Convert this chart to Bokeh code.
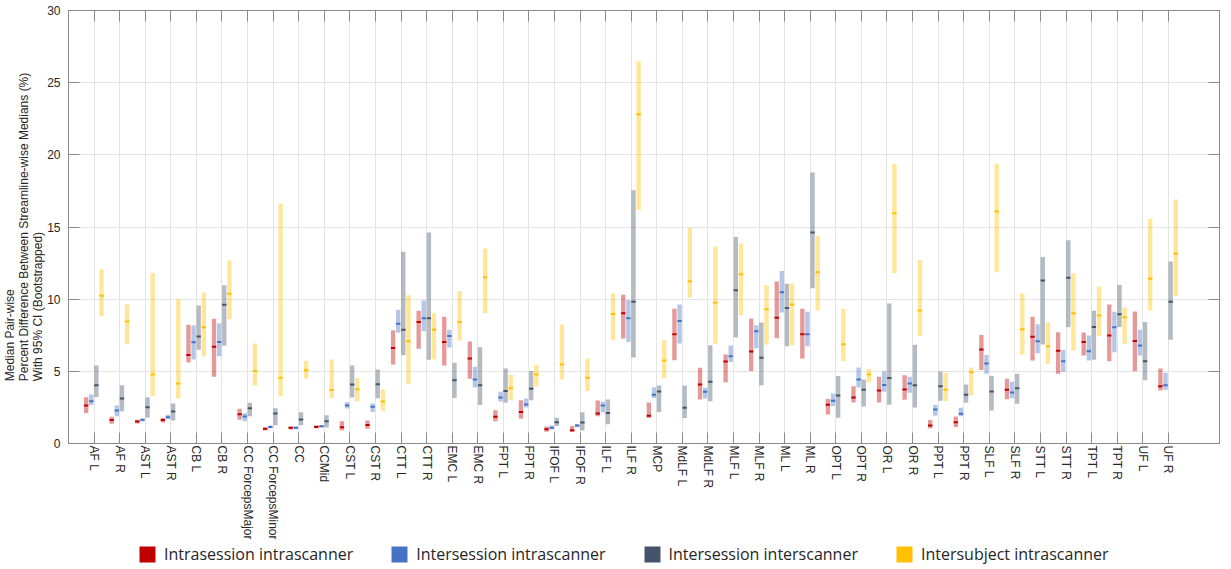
import numpy as np
from bokeh.plotting import figure
from bokeh.layouts import column
from bokeh.models import (ColumnDataSource, Range1d, FixedTicker, SingleIntervalTicker,
                          LinearAxis, Legend, LegendItem, Title)
from bokeh.embed import file_html
from bokeh.resources import INLINE

categories = ["AF L", "AF R", "AST L", "AST R", "CB L", "CB R", "CC ForcepsMajor",
              "CC ForcepsMinor", "CC", "CCMid", "CST L", "CST R", "CTT L", "CTT R",
              "EMC L", "EMC R", "FPT L", "FPT R", "IFOF L", "IFOF R", "ILF L", "ILF R",
              "MCP", "MdLF L", "MdLF R", "MLF L", "MLF R", "ML L", "ML R", "OPT L",
              "OPT R", "OR L", "OR R", "PPT L", "PPT R", "SLF L", "SLF R", "STT L",
              "STT R", "TPT L", "TPT R", "UF L", "UF R"]

# Intrasession intrascanner
intra_lo = [2.12, 1.36, 1.39, 1.45, 5.61, 4.62, 1.64, 0.90, 0.97, 1.06, 0.92, 1.02, 5.47, 6.56,
            5.40, 4.48, 1.55, 1.71, 0.81, 0.79, 1.89, 7.27, 1.76, 5.77, 3.05, 4.25, 5.03, 7.30,
            5.89, 2.01, 2.84, 2.84, 3.03, 1.06, 1.15, 5.10, 3.07, 5.75, 4.83, 6.10, 5.70, 5.01, 3.67]
intra_med = [2.63, 1.62, 1.52, 1.62, 6.14, 6.70, 2.03, 1.02, 1.09, 1.15, 1.13, 1.29, 6.61, 8.41,
             7.04, 5.89, 1.85, 2.19, 0.99, 0.92, 2.08, 9.03, 1.92, 7.57, 4.09, 5.68, 6.37, 8.71,
             7.57, 2.68, 3.19, 3.67, 3.74, 1.25, 1.48, 6.51, 3.72, 7.39, 6.42, 7.04, 7.48, 7.11, 3.97]
intra_hi = [3.21, 1.85, 1.64, 1.76, 8.22, 8.64, 2.40, 1.11, 1.18, 1.27, 1.55, 1.59, 7.85, 9.19,
            8.78, 7.07, 2.31, 3.00, 1.18, 1.22, 2.98, 10.30, 2.84, 9.33, 5.24, 6.17, 8.66, 11.22,
            9.33, 3.09, 3.97, 4.62, 4.73, 1.62, 1.87, 7.51, 4.48, 8.78, 7.71, 7.69, 9.63, 9.15, 5.20]

# Intersession intrascanner
inter_lo = [2.66, 1.89, 1.52, 1.69, 5.82, 6.05, 1.55, 1.06, 0.99, 1.11, 2.42, 2.19, 7.67, 7.78,
            6.65, 3.88, 2.91, 2.49, 0.97, 1.13, 2.17, 7.04, 3.16, 6.93, 3.12, 5.64, 6.60, 9.08,
            6.74, 2.59, 3.88, 3.58, 3.51, 1.92, 1.89, 4.83, 3.14, 6.26, 4.97, 5.75, 6.33, 6.10, 3.72]
inter_med = [2.93, 2.29, 1.64, 1.82, 7.02, 7.04, 1.87, 1.15, 1.09, 1.20, 2.63, 2.54, 8.29, 8.68,
             7.44, 4.43, 3.19, 2.70, 1.09, 1.25, 2.63, 8.68, 3.37, 8.48, 3.58, 6.05, 7.78, 10.48,
             7.57, 2.96, 4.43, 4.06, 4.16, 2.36, 2.06, 5.54, 3.53, 7.09, 5.70, 6.40, 8.06, 6.79, 4.04]
inter_hi = [3.39, 2.63, 1.71, 1.99, 8.18, 8.34, 2.12, 1.25, 1.18, 1.29, 2.86, 2.77, 9.26, 9.91,
            7.88, 5.31, 3.58, 3.12, 1.25, 1.34, 2.89, 9.95, 3.90, 9.63, 3.86, 6.79, 8.20, 11.96,
            9.12, 3.46, 5.27, 5.01, 4.62, 2.68, 2.47, 6.14, 4.27, 8.27, 6.47, 7.48, 9.12, 7.88, 4.90]

# Intersession interscanner
xscan_lo = [3.23, 2.24, 1.78, 1.59, 6.49, 6.77, 1.89, 1.27, 1.27, 1.11, 3.19, 3.14, 6.12, 5.80,
            3.16, 2.66, 2.82, 3.00, 1.22, 0.90, 1.34, 5.96, 2.19, 1.76, 2.93, 7.34, 4.04, 6.74,
            10.76, 1.78, 2.56, 2.68, 2.49, 2.96, 2.82, 2.29, 2.75, 6.86, 8.06, 5.80, 8.08, 4.39, 7.18]
xscan_med = [4.04, 3.12, 2.52, 2.22, 7.41, 9.61, 2.45, 2.08, 1.66, 1.55, 4.09, 4.11, 7.88, 8.68,
             4.39, 4.04, 3.63, 3.79, 1.48, 1.45, 2.12, 9.82, 3.60, 2.47, 4.27, 10.62, 5.94, 9.38,
             14.62, 3.33, 3.72, 4.53, 4.04, 3.97, 3.37, 3.60, 3.83, 11.29, 11.48, 8.08, 8.96, 5.70, 9.82]
xscan_hi = [5.40, 4.04, 3.21, 2.77, 9.56, 10.97, 2.82, 2.45, 2.17, 1.96, 5.40, 5.13, 13.28, 14.62,
            5.59, 6.67, 5.20, 5.03, 1.78, 2.17, 3.05, 17.55, 4.02, 4.02, 6.81, 14.30, 8.38, 11.06,
            18.78, 4.67, 4.43, 9.70, 6.84, 4.99, 4.09, 4.67, 4.83, 12.93, 14.09, 9.19, 10.99, 8.41, 12.61]

# Intersubject intrascanner
subj_lo = [8.82, 6.88, 3.28, 3.12, 6.03, 8.61, 4.02, 3.28, 4.48, 3.16, 2.91, 2.26, 4.11, 5.82,
           7.14, 9.05, 3.00, 3.95, 4.43, 3.63, 7.16, 16.17, 4.53, 10.12, 6.91, 8.89, 6.86, 6.81,
           9.21, 5.70, 4.25, 11.80, 7.44, 2.93, 3.33, 11.87, 6.17, 5.50, 6.44, 7.44, 6.91, 9.24, 10.21]
subj_med = [10.23, 8.45, 4.78, 4.16, 8.06, 10.37, 5.03, 4.55, 5.08, 3.70, 3.76, 2.91, 7.09, 7.88,
            8.41, 11.52, 3.83, 4.78, 5.47, 4.55, 8.98, 22.82, 5.75, 11.25, 9.77, 11.73, 9.30, 9.63,
            11.86, 6.88, 4.78, 15.96, 9.21, 3.72, 4.94, 16.07, 7.92, 6.74, 9.03, 8.87, 8.75, 11.41, 13.16]
subj_hi = [12.08, 9.65, 11.82, 10.00, 10.46, 12.68, 6.93, 16.63, 5.73, 5.82, 4.53, 3.74, 10.28, 9.05,
           10.55, 13.51, 4.76, 5.45, 8.24, 5.89, 10.39, 26.49, 7.16, 14.94, 13.65, 13.86, 10.97, 11.09,
           14.39, 9.33, 5.17, 19.38, 12.70, 4.90, 5.27, 19.38, 10.39, 8.38, 11.80, 10.88, 9.42, 15.57, 16.91]

series_names = ["Intrasession intrascanner", "Intersession intrascanner",
                "Intersession interscanner", "Intersubject intrascanner"]
series_colors = ["#C00000", "#4472C4", "#44546A", "#FFC000"]
series_offsets = [-0.31, -0.11, 0.09, 0.29]
series_data = [(intra_lo, intra_med, intra_hi), (inter_lo, inter_med, inter_hi),
               (xscan_lo, xscan_med, xscan_hi), (subj_lo, subj_med, subj_hi)]

AX = "#8a8a8a"
TXT = "#262626"
FONT = "Liberation Sans"

p = figure(frame_width=1151, frame_height=433, x_range=Range1d(0, 45), y_range=Range1d(0, 30),
           output_backend="svg", toolbar_location=None,
           min_border_left=63, min_border_right=1, min_border_top=10, min_border_bottom=0)

# legend strip below the chart (its glyphs use the same data, off its visible range)
lg = figure(width=1213, height=26, x_range=Range1d(-3, -2), y_range=Range1d(-3, -2),
            output_backend="svg", toolbar_location=None, min_border=0,
            x_axis_location=None, y_axis_location=None)
lg.grid.visible = False
lg.outline_line_color = None

positions = np.arange(1, len(categories) + 1)
legend_items = []
for name, color, off, (lo, med, hi) in zip(series_names, series_colors, series_offsets, series_data):
    src = ColumnDataSource(dict(x=positions + off, lo=lo, med=med, hi=hi))
    p.vbar(x="x", width=0.17, bottom="lo", top="hi", source=src,
           fill_color=color, fill_alpha=0.4, line_color=None)
    p.rect(x="x", y="med", width=0.17, height=2, height_units="screen", source=src,
           fill_color=color, line_color=None)
    r = lg.rect(x="x", y="med", width=0.17, height=2, height_units="screen", source=src,
                fill_color=color, line_color=None)
    legend_items.append(LegendItem(label=name, renderers=[r]))

# axes
p.xaxis.ticker = FixedTicker(ticks=list(positions))
p.xaxis.major_label_overrides = {int(i): c for i, c in zip(positions, categories)}
p.xaxis.major_label_orientation = "vertical"
p.yaxis.ticker = SingleIntervalTicker(interval=5)
for ax in (p.xaxis[0], p.yaxis[0]):
    ax.major_tick_in = 11
    ax.major_tick_out = 0
    ax.minor_tick_line_color = None
    ax.axis_line_color = AX
    ax.major_tick_line_color = AX
    ax.major_label_text_color = TXT
    ax.major_label_text_font = FONT
p.xaxis.major_label_text_font_size = "12px"
p.xaxis.major_label_standoff = 2
p.yaxis.major_label_text_font_size = "12px"
p.yaxis.major_label_standoff = 4

ylabel = Title(text="Median Pair-wise\nPercent Difference Between Streamline-wise Medians (%)\nWith 95% CI (Bootstrapped)",
               align="center", text_font=FONT, text_font_size="12px", text_font_style="normal",
               text_color=TXT, text_line_height=1.0, standoff=0, offset=0)
p.add_layout(ylabel, "left")

top_ax = LinearAxis(ticker=FixedTicker(ticks=list(positions)), major_tick_in=11, major_tick_out=0,
                    major_label_text_font_size="0px", major_label_text_color=None,
                    major_label_standoff=0,
                    minor_tick_line_color=None, axis_line_color=AX, major_tick_line_color=AX)
right_ax = LinearAxis(ticker=SingleIntervalTicker(interval=5), major_tick_in=11, major_tick_out=0,
                      major_label_text_font_size="0px", major_label_text_color=None,
                      major_label_standoff=0,
                      minor_tick_line_color=None, axis_line_color=AX, major_tick_line_color=AX)
p.add_layout(top_ax, "above")
p.add_layout(right_ax, "right")

p.xgrid.grid_line_color = "#e4e4e4"
p.ygrid.grid_line_color = "#e4e4e4"
p.outline_line_color = AX
p.background_fill_color = "white"
p.border_fill_color = "white"

legend = Legend(items=legend_items, orientation="horizontal", location=(69, 3),
                glyph_width=20, glyph_height=20, label_standoff=7, spacing=36,
                padding=0, margin=0, border_line_color=None, background_fill_alpha=0,
                label_text_font="Open Sans", label_text_font_size="16px",
                label_text_color=TXT)
lg.add_layout(legend)

open("out.html", "w").write(file_html(column(p, lg, spacing=0), INLINE))
